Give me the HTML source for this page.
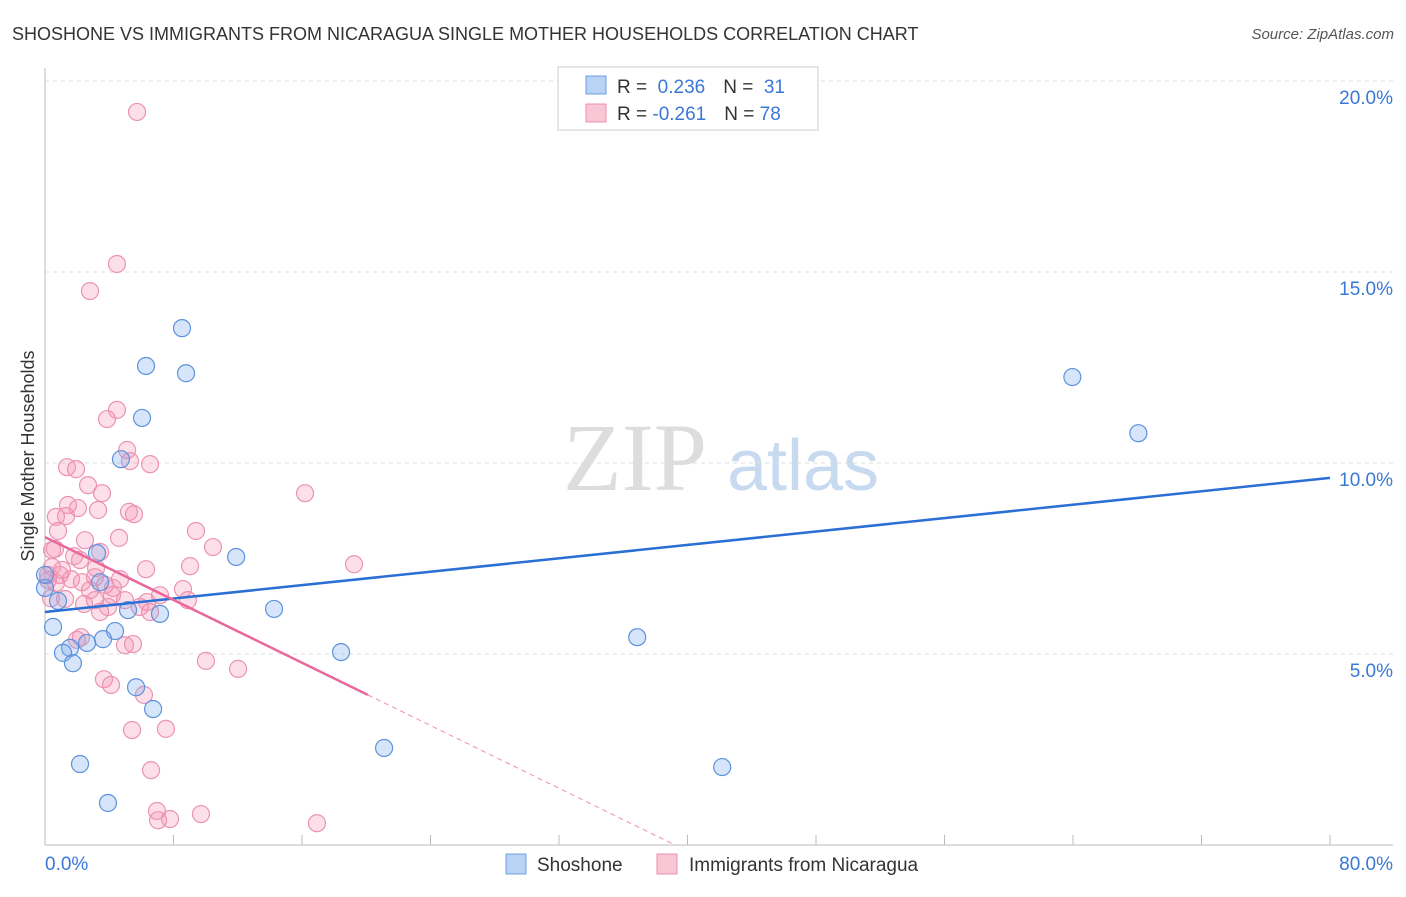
<!DOCTYPE html>
<html><head><meta charset="utf-8"><style>
body{margin:0;background:#fff;font-family:"Liberation Sans",sans-serif}
svg text{font-family:"Liberation Sans",sans-serif}
</style></head><body>
<svg width="1406" height="892" id="c">
<text x="12" y="40" font-size="18" fill="#333">SHOSHONE VS IMMIGRANTS FROM NICARAGUA SINGLE MOTHER HOUSEHOLDS CORRELATION CHART</text>
<text x="1394" y="39" font-size="15" fill="#555" text-anchor="end" font-style="italic">Source: ZipAtlas.com</text>
<text x="34" y="456" font-size="18" fill="#333" text-anchor="middle" transform="rotate(-90 34 456)">Single Mother Households</text>
<text x="635" y="490" font-size="96" fill="#ddd" font-family="Liberation Serif" text-anchor="middle" style="font-family:'Liberation Serif',serif">ZIP</text>
<text x="803" y="490" font-size="72" fill="#c8daf0" text-anchor="middle">atlas</text>
<g id="grid"></g><g id="pts"></g><g id="lines"></g>
<g>
<rect x="558" y="67" width="260" height="63" fill="#fff" stroke="#ccc"/>
<rect x="586" y="76" width="20" height="18" fill="#b8d3f5" stroke="#6d9ee0"/>
<rect x="586" y="104" width="20" height="18" fill="#f9c6d6" stroke="#ec8fae"/>
<text x="617" y="93" font-size="19" fill="#333">R = <tspan fill="#3a78d6">&#160;0.236</tspan><tspan dx="18">N = </tspan><tspan fill="#3a78d6">&#160;31</tspan></text>
<text x="617" y="120" font-size="19" fill="#333">R = <tspan fill="#3a78d6">-0.261</tspan><tspan dx="18">N = </tspan><tspan fill="#3a78d6">78</tspan></text>
</g>
<g>
<rect x="506" y="854" width="20" height="20" fill="#b8d3f5" stroke="#6d9ee0"/>
<text x="537" y="871" font-size="19" fill="#333">Shoshone</text>
<rect x="657" y="854" width="20" height="20" fill="#f9c6d6" stroke="#ec8fae"/>
<text x="689" y="871" font-size="19" fill="#333">Immigrants from Nicaragua</text>
</g>
</svg>
<script>
const blueX=[8.53,6.29,8.78,6.04,4.73,3.24,11.9,0,3.43,0.81,5.17,7.16,14.26,0.5,4.36,3.61,1.56,2.62,1.12,1.74,18.43,36.87,5.67,6.73,21.11,2.18,42.16,3.92,63.96,68.07,0];
const blueY=[13.53,12.54,12.35,11.18,10.10,7.64,7.54,6.73,6.88,6.39,6.15,6.05,6.18,5.71,5.60,5.39,5.16,5.29,5.03,4.76,5.05,5.44,4.13,3.56,2.54,2.12,2.04,1.10,12.25,10.78,7.07];
const pinkX=[5.73,4.48,2.80,4.48,3.86,5.11,5.29,6.54,1.37,1.93,2.68,3.55,16.19,1.31,0.68,2.05,3.30,5.23,5.54,9.40,0.81,2.49,4.61,10.46,0.62,3.43,1.81,6.29,9.03,19.24,0.44,0.93,3.11,4.67,0.19,0.68,1.62,2.30,3.74,2.80,4.23,8.59,0.37,1.25,2.43,3.92,4.98,6.35,5.91,8.90,6.54,2.24,1.99,4.98,5.48,10.02,12.02,3.67,4.11,6.16,5.42,7.53,6.60,6.97,7.04,7.78,9.71,16.93,0.44,0.19,1.06,3.11,3.43,2.18,7.16,1.43,4.17,3.18];
const pinkY=[19.19,15.21,14.50,11.39,11.15,10.34,10.05,9.97,9.89,9.84,9.42,9.21,9.21,8.61,8.59,8.82,8.77,8.72,8.66,8.22,8.22,7.98,8.04,7.80,7.75,7.67,7.56,7.22,7.30,7.35,7.28,7.07,7.01,6.96,6.94,6.86,6.96,6.88,6.81,6.67,6.73,6.70,6.46,6.44,6.31,6.23,6.41,6.36,6.23,6.41,6.10,5.44,5.37,5.23,5.26,4.82,4.61,4.34,4.19,3.93,3.01,3.04,1.96,0.89,0.65,0.68,0.81,0.57,7.72,7.07,7.20,6.41,6.10,7.46,6.54,8.90,6.54,7.25];
const yTicks=[5,10,15,20];
const yTickLabels=["5.0%","10.0%","15.0%","20.0%"];
const blueTrend=[[0,6.10],[80,9.61]];
const pinkTrend=[[0,8.06],[20.1,3.93]];
const X=v=>45+v*16.0625, Y=v=>845-v*38.2;
const NS="http://www.w3.org/2000/svg";
function mk(t,a,p){const e=document.createElementNS(NS,t);for(const k in a)e.setAttribute(k,a[k]);p.appendChild(e);return e;}
const g=document.getElementById('grid');
const ax=mk('line',{x1:45,y1:68,x2:45,y2:845,stroke:'#bbb'},g);


const bx=mk('line',{x1:45,y1:845,x2:1393,y2:845,stroke:'#bbb'},g);


for(let i=0;i<=10;i++){const t=mk('line',{x1:X(i*8),y1:845,x2:X(i*8),y2:835,stroke:'#bbb'},g);

}
yTicks.forEach((v,i)=>{const l=mk('line',{x1:45,y1:Y(v),x2:1393,y2:Y(v),stroke:'#ddd','stroke-dasharray':'4,4'},g);


const t=mk('text',{x:1393,y:Y(v)+23,'font-size':19,fill:'#3a78d6','text-anchor':'end'},g);t.textContent=yTickLabels[i];

});
const x0=mk('text',{x:45,y:870,'font-size':19,fill:'#3a78d6'},g);x0.textContent='0.0%';


const x1=mk('text',{x:1393,y:870,'font-size':19,fill:'#3a78d6','text-anchor':'end'},g);x1.textContent='80.0%';


const p=document.getElementById('pts');
pinkX.forEach((v,i)=>{const c=mk('circle',{cx:X(v),cy:Y(pinkY[i]),r:8.5,fill:'rgba(244,150,182,0.3)',stroke:'#eb93b1','stroke-width':1.2},p);

});
blueX.forEach((v,i)=>{const c=mk('circle',{cx:X(v),cy:Y(blueY[i]),r:8.5,fill:'rgba(120,170,235,0.3)',stroke:'#5d92dc','stroke-width':1.2},p);

});
const L=document.getElementById('lines');
const b=mk('line',{x1:X(blueTrend[0][0]),y1:Y(blueTrend[0][1]),x2:X(blueTrend[1][0]),y2:Y(blueTrend[1][1]),stroke:'#2a6fd6','stroke-width':2.5},L);


const pk=mk('line',{x1:X(pinkTrend[0][0]),y1:Y(pinkTrend[0][1]),x2:X(pinkTrend[1][0]),y2:Y(pinkTrend[1][1]),stroke:'#e8689a','stroke-width':2.5},L);


const s=(pinkTrend[1][1]-pinkTrend[0][1])/(pinkTrend[1][0]-pinkTrend[0][0]);
const xe=pinkTrend[0][0]-pinkTrend[0][1]/s;
const d=mk('line',{x1:X(pinkTrend[1][0]),y1:Y(pinkTrend[1][1]),x2:X(xe),y2:Y(0),stroke:'#eb8fb0','stroke-width':1,'stroke-dasharray':'5,4'},L);


</script>
</body></html>
